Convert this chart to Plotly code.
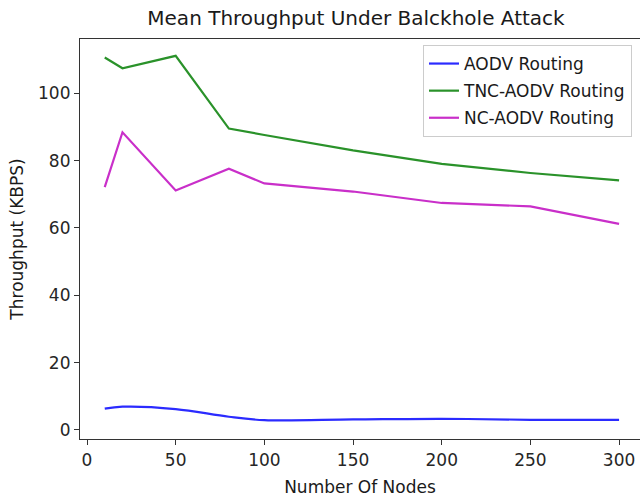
import plotly.graph_objects as go

nodes = [10, 20, 50, 80, 100, 150, 200, 250, 300]
aodv = [6.3, 6.9, 6.2, 3.9, 2.9, 3.1, 3.3, 3.0, 3.0]
tnc_aodv = [110.6, 107.4, 111.1, 89.5, 87.6, 83.0, 79.0, 76.3, 74.1]
nc_aodv = [72.1, 88.4, 71.1, 77.6, 73.2, 70.8, 67.4, 66.4, 61.2]

x_ticks = [0, 50, 100, 150, 200, 250, 300]
y_ticks = [0, 20, 40, 60, 80, 100]

FONT = "DejaVu Sans"
fig = go.Figure()
fig.add_trace(go.Scatter(x=nodes, y=aodv, mode="lines", name="AODV Routing",
                         line=dict(color="#2b2bff", width=2.2, shape="spline", smoothing=1.0),
                         legendgroup="a"))
fig.add_trace(go.Scatter(x=nodes, y=tnc_aodv, mode="lines", name="TNC-AODV Routing",
                         line=dict(color="#2a922a", width=2.2), legendgroup="b"))
fig.add_trace(go.Scatter(x=nodes, y=nc_aodv, mode="lines", name="NC-AODV Routing",
                         line=dict(color="#c92fc9", width=2.2), legendgroup="c"))

axis_common = dict(showgrid=False, zeroline=False, showline=True, linecolor="#333333",
                   linewidth=1.2, ticks="outside", ticklen=5, tickcolor="#333333",
                   tickfont=dict(family=FONT, size=17, color="#262626"))

fig.update_layout(
    width=640, height=499,
    margin=dict(l=80, r=0, t=39, b=60),
    paper_bgcolor="white", plot_bgcolor="white",
    title=dict(text="Mean Throughput Under Balckhole Attack", x=356/640, xref="container",
               xanchor="center", y=1-18/499, yanchor="middle",
               font=dict(family=FONT, size=20, color="#1a1a1a")),
    xaxis=dict(range=[-3.95, 311.8], tickvals=x_ticks, mirror=True,
               title=dict(text="Number Of Nodes", font=dict(family=FONT, size=17, color="#1a1a1a"), standoff=12),
               **axis_common),
    yaxis=dict(range=[-2.7, 116.1], tickvals=y_ticks,
               title=dict(text="Throughput (KBPS)", font=dict(family=FONT, size=17, color="#1a1a1a"), standoff=10),
               **axis_common),
    legend=dict(x=0.9857, xanchor="right", y=0.985, yanchor="top",
                bgcolor="rgba(255,255,255,0.8)", bordercolor="#cccccc", borderwidth=1,
                font=dict(family=FONT, size=17, color="#1a1a1a"), tracegroupgap=2),
    showlegend=True,
)

fig.write_html("out.html")
